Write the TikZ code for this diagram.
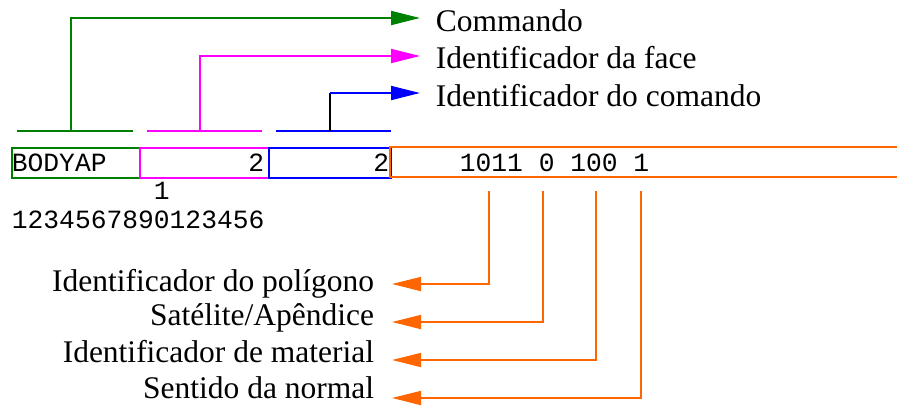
\documentclass[tikz,border=0pt]{standalone}
\usepackage{fontspec}
\setmainfont{Liberation Serif}
\setmonofont{Liberation Mono}
\usetikzlibrary{arrows.meta}
\definecolor{cgreen}{RGB}{0,128,0}
\definecolor{cpink}{RGB}{255,0,255}
\definecolor{cblue}{RGB}{0,0,255}
\definecolor{corange}{RGB}{255,102,0}
\begin{document}
\begin{tikzpicture}[x=1pt,y=-1pt,line width=1.8pt,
  mono/.style={font=\fontsize{26.3}{30}\ttfamily,inner sep=0pt},
  lbl/.style={font=\fontsize{31.5}{36}\selectfont,inner sep=0pt},
  tipr/.style={-{Triangle[length=29pt,width=14pt]}},
  fieldbox/.style={draw,minimum height=30pt,anchor=north west,inner sep=0pt,line width=1.7pt}]
\useasboundingbox (0,0) rectangle (897,405);
% field boxes
\node[fieldbox,draw=cgreen,minimum width=128pt] (bgreen) at (11,147) {};
\node[fieldbox,draw=cpink,minimum width=129pt] (bpink) at (139,147) {};
\node[fieldbox,draw=cblue,minimum width=122pt] (bblue) at (268,147) {};
\coordinate (oa) at (902,147);
\coordinate (ob) at (390,147);
\coordinate (oc) at (390,177);
\coordinate (od) at (902,177);
\draw[corange,line width=1.7pt] (oa) -- (ob) -- (oc) -- (od);
% field texts
\node[mono,anchor=base west] (tcmd) at (11,171) {BODYAP};
\node[mono,anchor=base east] (tface) at (265,171) {2};
\node[mono,anchor=base east] (tid) at (390,171) {2};
\node[mono,anchor=base west] (tbits) at (459,171) {1011 0 100 1};
\node[mono,anchor=base west] (ten) at (153,199) {1};
\node[mono,anchor=base west] (tcols) at (11,228) {1234567890123456};
% top labels
\node[lbl,anchor=base west] (lcmd) at (435,31) {Commando};
\node[lbl,anchor=base west] (lface) at (435,68.5) {Identificador da face};
\node[lbl,anchor=base west] (lid) at (435,106) {Identificador do comando};
% top brackets
\coordinate (gs1) at (17,131); \coordinate (gs2) at (133,131);
\coordinate (ps1) at (147,131); \coordinate (ps2) at (262,131);
\coordinate (bs1) at (276,131); \coordinate (bs2) at (391,131);
\draw[cgreen] (gs1) -- (gs2);
\draw[cpink] (ps1) -- (ps2);
\draw[cblue] (bs1) -- (bs2);
\coordinate (g0) at (71,131); \coordinate (gt) at (420,18);
\coordinate (p0) at (200,131); \coordinate (pt) at (420,56);
\coordinate (b0) at (330,131); \coordinate (bk) at (330,93); \coordinate (bt) at (420,93);
\draw[cgreen,tipr] (g0) |- (gt);
\draw[cpink,tipr] (p0) |- (pt);
\draw[black] (b0) -- (bk);
\draw[cblue,tipr] (bk) -- (bt);
% bottom labels
\node[lbl,anchor=base east] (lpol) at (375,291) {Identificador do polígono};
\node[lbl,anchor=base east] (lsat) at (375,325) {Satélite/Apêndice};
\node[lbl,anchor=base east] (lmat) at (375,362) {Identificador de material};
\node[lbl,anchor=base east] (lnor) at (375,398) {Sentido da normal};
% bottom connectors
\coordinate (o1) at (489,191); \coordinate (o1t) at (392,284);
\coordinate (o2) at (543,191); \coordinate (o2t) at (392,322);
\coordinate (o3) at (596,191); \coordinate (o3t) at (392,360);
\coordinate (o4) at (641,191); \coordinate (o4t) at (392,398);
\draw[corange,tipr] (o1) |- (o1t);
\draw[corange,tipr] (o2) |- (o2t);
\draw[corange,tipr] (o3) |- (o3t);
\draw[corange,tipr] (o4) |- (o4t);
\end{tikzpicture}
\end{document}
